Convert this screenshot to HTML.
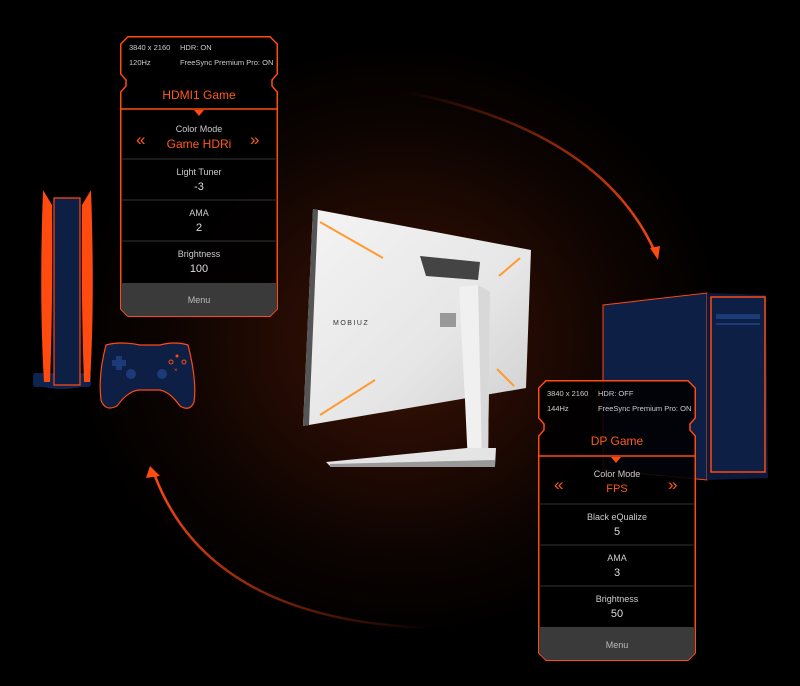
<!DOCTYPE html>
<html><head><meta charset="utf-8"><style>
*{margin:0;padding:0;box-sizing:border-box}
body{width:800px;height:686px;overflow:hidden;background:#000;font-family:"Liberation Sans",sans-serif;position:relative}
.bg{position:absolute;inset:0;background:radial-gradient(ellipse 330px 300px at 400px 340px,#3a1406 0%,#220a03 40%,#0a0301 75%,#000 100%)}
.p{position:absolute;width:158px;height:281px;color:#ddd;text-align:center}
.p svg{position:absolute;left:0;top:0}
.t{position:absolute;font-size:7.5px;color:#ccc}
.h{position:absolute;left:0;width:158px;font-size:12px;color:#ff5a1a}
.s{position:absolute;left:0;width:158px;font-size:9px;color:#ccc}
.v{position:absolute;left:0;width:158px;font-size:11px;color:#ddd}
.o{position:absolute;font-size:17px;color:#ff5a1a;line-height:17px}
</style></head><body>
<div class="bg"></div>
<svg width="800" height="686" style="position:absolute;left:0;top:0">
<defs>
<linearGradient id="a1" x1="405" y1="92" x2="658" y2="258" gradientUnits="userSpaceOnUse"><stop offset="0" stop-color="#ff4a10" stop-opacity="0"/><stop offset="1" stop-color="#ff4a10"/></linearGradient>
<linearGradient id="a2" x1="430" y1="628" x2="150" y2="470" gradientUnits="userSpaceOnUse"><stop offset="0" stop-color="#ff4a10" stop-opacity="0"/><stop offset="1" stop-color="#ff4a10"/></linearGradient>
<linearGradient id="mb" x1="0" y1="0" x2="1" y2="1"><stop offset="0" stop-color="#f4f4f4"/><stop offset=".6" stop-color="#e6e6e6"/><stop offset="1" stop-color="#cfcfcf"/></linearGradient>
</defs>
<path d="M405 92 Q600 130 655 252" stroke="url(#a1)" stroke-width="2.5" fill="none"/>
<path d="M650 248 L658 260 L660 246 Z" fill="#ff4a10"/>
<path d="M430 628 Q210 620 155 476" stroke="url(#a2)" stroke-width="2.5" fill="none"/>
<path d="M146 478 L150 466 L160 476 Z" fill="#ff4a10"/>
<!-- monitor -->
<polygon points="313,209 531,250 526,388 303,426" fill="url(#mb)"/>
<polygon points="313,209 318,210 309,425 303,426" fill="#555"/>
<line x1="320" y1="222" x2="383" y2="258" stroke="#ff9a30" stroke-width="2"/>
<line x1="520" y1="258" x2="499" y2="276" stroke="#ff9a30" stroke-width="2"/>
<line x1="320" y1="415" x2="375" y2="380" stroke="#ff9a30" stroke-width="2"/>
<line x1="497" y1="369" x2="514" y2="386" stroke="#ff9a30" stroke-width="2"/>
<polygon points="420,256 480,262 478,280 426,276" fill="#444"/>
<polygon points="440,313 456,313 456,327 440,327" fill="#999"/>
<text x="333" y="325" font-size="7" fill="#333" font-family="Liberation Sans" letter-spacing="1.5">MOBIUZ</text>
<polygon points="459,287 478,285 490,292 488,462 468,465 465,400" fill="#f0f0f0"/>
<polygon points="478,285 490,292 488,462 482,462" fill="#d8d8d8"/>
<polygon points="326,462 467,448 496,448 495,466 330,466" fill="#e4e4e4"/>
<polygon points="330,464 495,460 495,467 330,467" fill="#999"/>
<!-- PS5 -->
<ellipse cx="62" cy="381" rx="28" ry="8" fill="#0d2450"/>
<rect x="33" y="373" width="58" height="14" rx="3" fill="#0d2450"/>
<path d="M43 190 L52 205 Q53 300 50 382 L44 382 Q39 300 43 190Z" fill="#ff4a10"/>
<path d="M91 190 L82 205 Q81 300 84 382 L90 382 Q95 300 91 190Z" fill="#ff4a10"/>
<path d="M54 198 L80 198 L80 385 L54 385 Z" fill="#0d1f45" stroke="#ff4a10" stroke-width="1.2"/>
<!-- controller -->
<path d="M106 345 Q120 341 140 345 L160 345 Q175 341 188 345 Q197 380 194 402 Q190 412 180 406 Q170 392 160 390 L138 390 Q127 392 117 406 Q105 412 101 400 Q98 375 106 345Z" fill="#0d1f45" stroke="#ff4a10" stroke-width="1.2"/>
<circle cx="131" cy="374" r="5" fill="#1c3a78"/><circle cx="162" cy="374" r="5" fill="#1c3a78"/>
<path d="M116 356h6v4h4v6h-4v4h-6v-4h-4v-6h4z" fill="#1c3a78"/>
<circle cx="177" cy="356" r="1.5" fill="#ff4a10"/><circle cx="171" cy="362" r="2" fill="none" stroke="#ff4a10"/><circle cx="184" cy="362" r="2" fill="none" stroke="#ff4a10"/>
<text x="174" y="372" font-size="6" fill="#ff4a10">×</text>
<!-- PC -->
<polygon points="603,305 707,293 707,480 603,470" fill="#0d1f45" stroke="#ff4a10" stroke-width="1"/>
<polygon points="707,293 766,295 768,478 707,480" fill="#0b1a3c"/>
<rect x="711" y="297" width="54" height="175" fill="#0d1f45" stroke="#ff4a10" stroke-width="1.5"/>
<rect x="716" y="314" width="44" height="5" fill="#1c3a78"/><rect x="716" y="323" width="44" height="2" fill="#1c3a78"/>
</svg>

<div class="p" style="left:120px;top:36px">
<svg width="158" height="281"><path d="M8 .75H150L157.25 8V38L152 44V50L157.25 56V273L150 280.25H8L.75 273V56L6 50V44L.75 38V8Z" fill="rgba(0,0,0,.88)" stroke="#ff4a10" stroke-width="1.5"/>
<path d="M1 247H157V273L150 280H8L1 273Z" fill="#3a3a3a"/>
<line x1="1" y1="73" x2="157" y2="73" stroke="#ff4a10" stroke-width="1.5"/>
<path d="M74 74h10l-5 6z" fill="#ff4a10"/>
<g stroke="#333"><line x1="1" y1="123" x2="157" y2="123"/><line x1="1" y1="164" x2="157" y2="164"/><line x1="1" y1="205" x2="157" y2="205"/></g></svg>
<div class="t" style="left:9px;top:7px">3840 x 2160</div><div class="t" style="left:60px;top:7px">HDR: ON</div>
<div class="t" style="left:9px;top:22px">120Hz</div><div class="t" style="left:60px;top:22px">FreeSync Premium Pro: ON</div>
<div class="h" style="top:52px">HDMI1 Game</div>
<div class="s" style="top:88px">Color Mode</div>
<div class="v" style="top:101px;color:#ff5a1a;font-size:12px">Game HDRi</div>
<div class="o" style="left:16px;top:95px">«</div><div class="o" style="left:130px;top:95px">»</div>
<div class="s" style="top:131px">Light Tuner</div><div class="v" style="top:145px">-3</div>
<div class="s" style="top:172px">AMA</div><div class="v" style="top:186px">2</div>
<div class="s" style="top:213px">Brightness</div><div class="v" style="top:227px">100</div>
<div class="s" style="top:259px;color:#bbb">Menu</div>
</div>

<div class="p" style="left:538px;top:380px">
<svg width="158" height="281"><path d="M8 .75H150L157.25 8V38L152 44V50L157.25 56V273L150 280.25H8L.75 273V56L6 50V44L.75 38V8Z" fill="rgba(0,0,0,.88)" stroke="#ff4a10" stroke-width="1.5"/>
<path d="M1 247H157V273L150 280H8L1 273Z" fill="#3a3a3a"/>
<line x1="1" y1="76" x2="157" y2="76" stroke="#ff4a10" stroke-width="1.5"/>
<path d="M73 77h10l-5 6z" fill="#ff4a10"/>
<g stroke="#333"><line x1="1" y1="124" x2="157" y2="124"/><line x1="1" y1="165" x2="157" y2="165"/><line x1="1" y1="206" x2="157" y2="206"/></g></svg>
<div class="t" style="left:9px;top:9px">3840 x 2160</div><div class="t" style="left:60px;top:9px">HDR: OFF</div>
<div class="t" style="left:9px;top:24px">144Hz</div><div class="t" style="left:60px;top:24px">FreeSync Premium Pro: ON</div>
<div class="h" style="top:54px">DP Game</div>
<div class="s" style="top:89px">Color Mode</div>
<div class="v" style="top:103px;color:#ff5a1a">FPS</div>
<div class="o" style="left:16px;top:96px">«</div><div class="o" style="left:130px;top:96px">»</div>
<div class="s" style="top:132px">Black eQualize</div><div class="v" style="top:146px">5</div>
<div class="s" style="top:173px">AMA</div><div class="v" style="top:187px">3</div>
<div class="s" style="top:214px">Brightness</div><div class="v" style="top:228px">50</div>
<div class="s" style="top:260px;color:#bbb">Menu</div>
</div>
</body></html>
